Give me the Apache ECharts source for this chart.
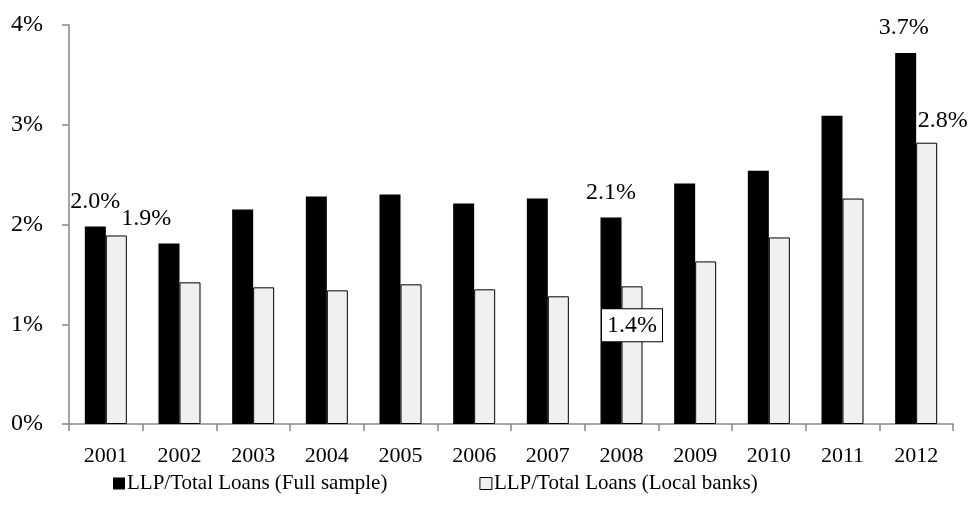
<!DOCTYPE html>
<html>
<head>
<meta charset="utf-8">
<script src="https://cdn.jsdelivr.net/npm/echarts@6/dist/echarts.min.js"></script>
<style>
  html, body { margin: 0; padding: 0; background: #fff; }
  #chart { width: 971px; height: 521px; }
</style>
</head>
<body>
<div id="chart"></div>
<script>
// data (percent)
var years = ['2001','2002','2003','2004','2005','2006','2007','2008','2009','2010','2011','2012'];
var fullSample = [1.98, 1.81, 2.15, 2.28, 2.30, 2.21, 2.26, 2.07, 2.41, 2.54, 3.09, 3.72];
var localBanks = [1.89, 1.42, 1.37, 1.34, 1.40, 1.35, 1.28, 1.38, 1.63, 1.87, 2.26, 2.82];
var fullLabelIdx = [0, 7, 11];
var yTicks = [0, 1, 2, 3, 4];

var font = 'Liberation Serif, Times New Roman, serif';

function fmt(p) { return p.value.toFixed(1) + '%'; }

// full sample bars, labels only on a few years
var fullData = fullSample.map(function (v, i) {
  var d = { value: v };
  if (fullLabelIdx.indexOf(i) >= 0) {
    d.label = { show: true, position: 'top', distance: 13, offset: [i === 11 ? -2 : 0, 0] };
  }
  return d;
});

var localData = localBanks.map(function (v, i) {
  var d = { value: v };
  if (i === 0) {
    d.label = { show: true, position: 'top', distance: 5, offset: [30, 0] };
  } else if (i === 7) {
    // boxed label sitting inside the bar
    d.label = {
      show: true, position: 'insideTop', distance: 23,
      backgroundColor: '#fff', borderColor: '#000', borderWidth: 1,
      padding: [4, 5]
    };
  } else if (i === 11) {
    d.label = { show: true, position: 'top', distance: 10, offset: [16, 0] };
  }
  return d;
});

var chart = echarts.init(document.getElementById('chart'));
chart.setOption({
  animation: false,
  textStyle: { fontFamily: font },
  grid: { left: 69, right: 18, top: 25, bottom: 97 },
  legend: {
    bottom: 22,
    left: 108,
    itemGap: 92,
    itemWidth: 12,
    itemHeight: 12,
    icon: 'rect',
    textStyle: { fontFamily: font, fontSize: 21, color: '#000', padding: [0, 0, 0, -3] },
    data: [
      { name: 'LLP/Total Loans (Full sample)', itemStyle: { color: '#000' } },
      { name: 'LLP/Total Loans (Local banks)', itemStyle: { color: '#f0f0f0', borderColor: '#000', borderWidth: 1 } }
    ]
  },
  xAxis: {
    type: 'category',
    data: years,
    axisLine: { lineStyle: { color: '#868686', width: 1.5 } },
    axisTick: { show: true, length: 7, lineStyle: { color: '#868686', width: 1.5 } },
    axisLabel: { color: '#000', fontSize: 22, fontFamily: font, margin: 21 }
  },
  yAxis: {
    type: 'value',
    min: yTicks[0],
    max: yTicks[yTicks.length - 1],
    interval: 1,
    splitLine: { show: false },
    axisLine: { show: true, lineStyle: { color: '#868686', width: 1.5 } },
    axisTick: { show: true, length: 7, lineStyle: { color: '#868686', width: 1.5 } },
    axisLabel: { color: '#000', fontSize: 24, fontFamily: font, margin: 26, formatter: '{value}%' }
  },
  series: [
    {
      name: 'LLP/Total Loans (Full sample)',
      type: 'bar',
      barWidth: 21,
      barGap: '0%',
      itemStyle: { color: '#000' },
      label: { formatter: fmt, color: '#000', fontSize: 24, fontFamily: font },
      data: fullData
    },
    {
      name: 'LLP/Total Loans (Local banks)',
      type: 'bar',
      barWidth: 21,
      barGap: '0%',
      itemStyle: { color: '#f0f0f0', borderColor: '#000', borderWidth: 1 },
      label: { formatter: fmt, color: '#000', fontSize: 24, fontFamily: font },
      data: localData
    }
  ]
});
</script>
</body>
</html>
